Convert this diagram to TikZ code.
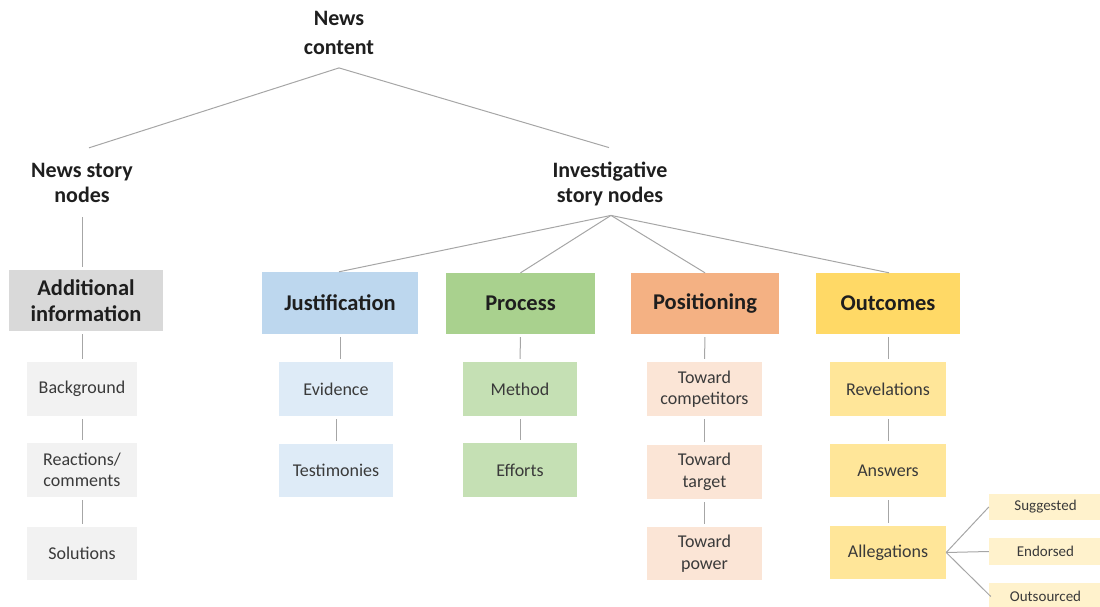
\documentclass[tikz,border=0pt]{standalone}
\usepackage{fontspec}
\setmainfont{Carlito}
\usetikzlibrary{calc}
\definecolor{conn}{HTML}{A6A6A6}
\definecolor{txtA}{HTML}{1E1E1E}
\definecolor{txtB}{HTML}{3A3A3A}
\definecolor{grayH}{HTML}{D9D9D9}
\definecolor{grayL}{HTML}{F2F2F2}
\definecolor{blueH}{HTML}{BDD7EE}
\definecolor{blueL}{HTML}{DEEBF7}
\definecolor{greenH}{HTML}{A9D18E}
\definecolor{greenL}{HTML}{C5E0B4}
\definecolor{orangeH}{HTML}{F4B183}
\definecolor{orangeL}{HTML}{FBE5D6}
\definecolor{yellowH}{HTML}{FFD966}
\definecolor{yellowL}{HTML}{FFE699}
\definecolor{yellowT}{HTML}{FFF2CC}
\tikzset{
  toplabel/.style={inner sep=0pt, align=center, text=txtA,
    font=\fontsize{22}{25.5}\selectfont\bfseries},
  headbox/.style={inner sep=0pt, align=center, text=txtA,
    font=\fontsize{22.5}{26}\selectfont\bfseries},
  subbox/.style={inner sep=0pt, align=center, text=txtB, minimum height=54pt,
    font=\fontsize{18}{21.5}\selectfont},
  tinybox/.style={inner sep=0pt, align=center, text=txtB, minimum width=113pt,
    font=\fontsize{15}{17}\selectfont},
  link/.style={draw=conn, line width=1pt},
  vlink/.style={link, shorten <=3pt, shorten >=3pt}
}
\begin{document}
\begin{tikzpicture}[x=1pt, y=-1pt]
\useasboundingbox (0,0) rectangle (1100,607);
% top labels
\node[toplabel, font=\fontsize{22}{29}\selectfont\bfseries] (nc) at (339,33) {News\\content};
\node[toplabel] (nsn) at (82,183) {News story\\nodes};
\node[toplabel] (isn) at (610,184) {Investigative\\story nodes};
% head boxes
\node[headbox, fill=grayH, minimum width=154pt, minimum height=61pt] (add) at (86,300.5) {Additional\\information};
\node[headbox, fill=blueH, minimum width=156pt, minimum height=62pt] (just) at (340,303) {Justification};
\node[headbox, fill=greenH, minimum width=149pt, minimum height=61pt] (proc) at (520.5,303.5) {Process};
\node[headbox, fill=orangeH, minimum width=148pt, minimum height=61pt] (posi) at (705,303.5) {Positioning};
\node[headbox, fill=yellowH, minimum width=144pt, minimum height=61pt] (outc) at (888,303.5) {Outcomes};
% gray column
\node[subbox, fill=grayL, minimum width=110pt] (bg) at (82,389) {Background};
\node[subbox, fill=grayL, minimum width=110pt] (react) at (82,470) {Reactions/\\comments};
\node[subbox, fill=grayL, minimum width=110pt, minimum height=53pt] (sol) at (82,553.5) {Solutions};
% blue column
\node[subbox, fill=blueL, minimum width=114pt] (evid) at (336,389) {Evidence};
\node[subbox, fill=blueL, minimum width=114pt, minimum height=53pt] (testi) at (336,470.5) {Testimonies};
% green column
\node[subbox, fill=greenL, minimum width=114pt] (meth) at (520,389) {Method};
\node[subbox, fill=greenL, minimum width=114pt] (effo) at (520,470) {Efforts};
% orange column
\node[subbox, fill=orangeL, minimum width=115pt] (tcomp) at (704.5,389) {Toward\\competitors};
\node[subbox, fill=orangeL, minimum width=115pt] (ttarg) at (704.5,472) {Toward\\target};
\node[subbox, fill=orangeL, minimum width=115pt, minimum height=53pt] (tpow) at (704.5,553.5) {Toward\\power};
% yellow column
\node[subbox, fill=yellowL, minimum width=116pt] (rev) at (888,389) {Revelations};
\node[subbox, fill=yellowL, minimum width=116pt, minimum height=53pt] (ans) at (888,470.5) {Answers};
\node[subbox, fill=yellowL, minimum width=116pt, minimum height=53pt] (alleg) at (888,552.5) {Allegations};
\node[tinybox, fill=yellowT, minimum height=26pt] (sugg) at (1045.5,507) {Suggested};
\node[tinybox, fill=yellowT, minimum height=27pt] (endo) at (1045.5,551.5) {Endorsed};
\node[tinybox, fill=yellowT, minimum height=27pt] (outs) at (1045.5,596.5) {Outsourced};
% connectors
\draw[link] ($(nc.south)+(0,13)$) -- ($(nsn.north)+(7,-15)$);
\draw[link] ($(nc.south)+(0,13)$) -- ($(isn.north)+(-1,-14)$);
\draw[link] ($(nsn.south)+(0,14)$) -- ($(add.north)+(-4,-3)$);
\draw[link] ($(isn.south)+(1,9)$) -- ($(just.north)+(-1,0)$);
\draw[link] ($(isn.south)+(1,9)$) -- (proc.north);
\draw[link] ($(isn.south)+(1,9)$) -- (posi.north);
\draw[link] ($(isn.south)+(1,9)$) -- ($(outc.north)+(1,0)$);
\draw[vlink] ($(add.south)+(-4,0)$) -- (bg.north);
\draw[vlink] (bg) -- (react);
\draw[vlink] (react) -- (sol);
\draw[vlink] ($(just.south)+(0,0)$) -- ($(evid.north)+(4,0)$);
\draw[vlink] (evid) -- (testi);
\draw[vlink] (proc.south) -- (meth.north);
\draw[vlink] (meth) -- (effo);
\draw[vlink] (posi.south) -- (tcomp.north);
\draw[vlink] (tcomp) -- (ttarg);
\draw[vlink] (ttarg) -- (tpow);
\draw[vlink] (outc.south) -- (rev.north);
\draw[vlink] (rev) -- (ans);
\draw[vlink] (ans) -- (alleg);
\draw[link] (alleg.east) -- (sugg.west);
\draw[link] (alleg.east) -- (endo.west);
\draw[link] (alleg.east) -- ($(outs.west)+(2,0)$);
\end{tikzpicture}
\end{document}
